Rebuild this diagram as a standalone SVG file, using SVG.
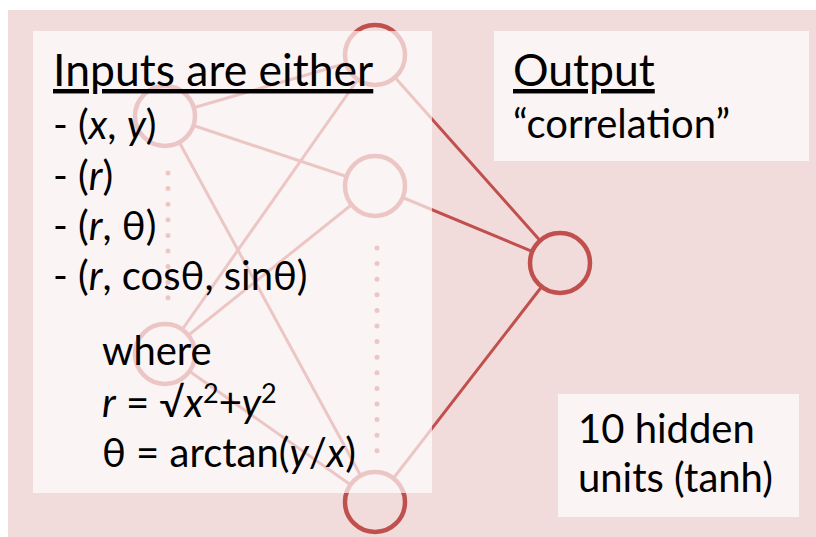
<svg xmlns="http://www.w3.org/2000/svg" width="816" height="537" viewBox="0 0 816 537">
  <style>
    .conn { stroke: #C0504D; stroke-width: 3; fill: none; }
    .dots { stroke: #C0504D; stroke-width: 5; stroke-linecap: round; stroke-dasharray: 0 15.6; fill: none; }
    .node { fill: #F2DCDB; stroke: #C0504D; stroke-width: 4.5; }
    .box { fill: #FFFFFF; opacity: 0.68; }
    .t { font-family: Lato, "Liberation Sans", sans-serif; font-size: 40px; fill: #000000; }
    .h { font-family: Lato, "Liberation Sans", sans-serif; font-size: 44.5px; fill: #000000; text-decoration: underline; }
    .i { font-style: italic; }
  </style>
  <rect x="8" y="10" width="808" height="527" fill="#F2DCDB"/>
  <g id="connectors">
    <line class="conn" x1="165" y1="116" x2="375" y2="55"/>
    <line class="conn" x1="165" y1="116" x2="375" y2="186"/>
    <line class="conn" x1="165" y1="116" x2="375" y2="502"/>
    <line class="conn" x1="165" y1="354" x2="375" y2="55"/>
    <line class="conn" x1="165" y1="354" x2="375" y2="186"/>
    <line class="conn" x1="165" y1="354" x2="375" y2="502"/>
    <line class="conn" x1="375" y1="55" x2="560" y2="263"/>
    <line class="conn" x1="375" y1="186" x2="560" y2="263"/>
    <line class="conn" x1="375" y1="502" x2="560" y2="263"/>
    <line class="dots" x1="168" y1="173" x2="168" y2="298"/>
    <line class="dots" x1="377" y1="248" x2="377" y2="452"/>
  </g>
  <g id="input-top"><circle class="node" cx="165" cy="116" r="30"/></g>
  <g id="input-bottom"><circle class="node" cx="165" cy="354" r="30"/></g>
  <g id="hidden-top"><circle class="node" cx="375" cy="55" r="30"/></g>
  <g id="hidden-middle"><circle class="node" cx="375" cy="186" r="30"/></g>
  <g id="hidden-bottom"><circle class="node" cx="375" cy="502" r="30"/></g>
  <g id="output-node"><circle class="node" cx="560" cy="263" r="30"/></g>
  <g id="inputs-box">
    <rect class="box" x="33" y="31" width="399" height="462"/>
    <text class="h" x="53" y="86">Inputs are either</text>
    <text class="t" x="53" y="139">- (<tspan class="i">x</tspan>, <tspan class="i">y</tspan>)</text>
    <text class="t" x="53" y="190">- (<tspan class="i">r</tspan>)</text>
    <text class="t" x="53" y="240">- (<tspan class="i">r</tspan>, θ)</text>
    <text class="t" x="53" y="290">- (<tspan class="i">r</tspan>, cosθ, sinθ)</text>
    <text class="t" x="102" y="365">where</text>
    <text class="t" x="102" y="417"><tspan class="i">r</tspan> = √<tspan class="i">x</tspan><tspan font-size="27" dy="-14">2</tspan><tspan dy="14">+</tspan><tspan class="i">y</tspan><tspan font-size="27" dy="-14">2</tspan></text>
    <text class="t" x="102" y="467">θ = arctan(<tspan class="i">y</tspan>/<tspan class="i">x</tspan>)</text>
  </g>
  <g id="output-box">
    <rect class="box" x="494" y="31" width="315" height="130"/>
    <text class="h" x="513" y="86">Output</text>
    <text class="t" x="513" y="138">“correlation”</text>
  </g>
  <g id="hidden-box">
    <rect class="box" x="558" y="394" width="241" height="123"/>
    <text class="t" x="578" y="443">10 hidden</text>
    <text class="t" x="578" y="492">units (tanh)</text>
  </g>
</svg>
